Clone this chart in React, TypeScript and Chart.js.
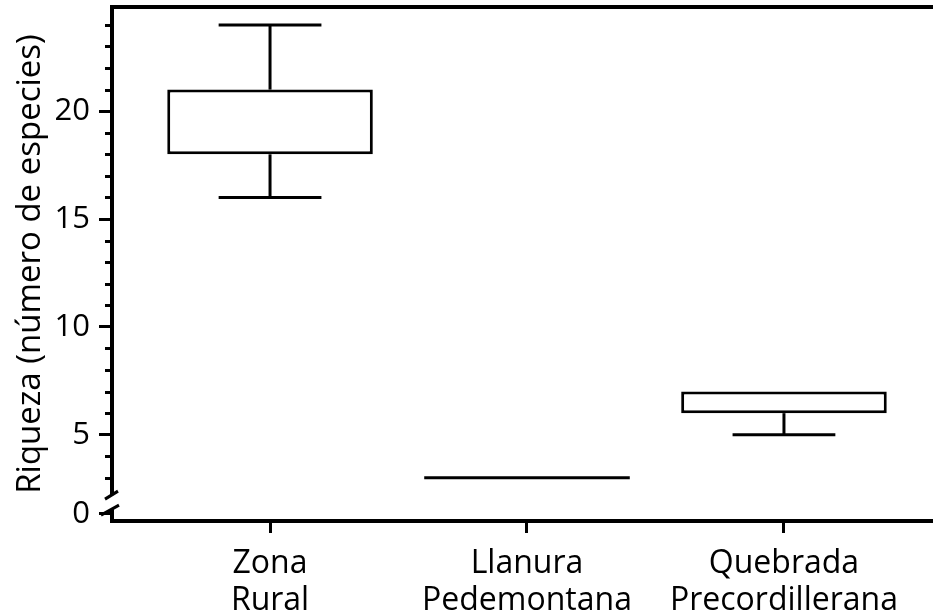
import React, { useEffect, useRef } from 'react';
import { Chart, registerables } from 'chart.js';

Chart.register(...registerables);

// ---- data ----
const categories: string[][] = [
  ['Zona', 'Rural'],
  ['Llanura', 'Pedemontana'],
  ['Quebrada', 'Precordillerana'],
];
const whiskerMin = [16, 3, 5];
const q1 = [18, 3, 6];
const median = [18, 3, 6];
const q3 = [21, 3, 7];
const whiskerMax = [24, 3, 7];

const yMajorTicks = [5, 10, 15, 20];
const yMinorTicks = [3, 4, 6, 7, 8, 9, 11, 12, 13, 14, 16, 17, 18, 19, 21, 22, 23, 24];
// the "0" label sits just below the axis break
const zeroTickPos = 1.33;
const zeroTickLabel = '0';
const breakLow = 1.55;
const breakHigh = 2.2;

const Y_MIN = 1.0;
const Y_MAX = 24.83;
const X_MIN = 0.385;
const X_MAX = 3.58;

const FONT_FAMILY = "'Open Sans', sans-serif";

const boxExtras = {
  id: 'boxExtras',
  afterDatasetsDraw(chart: any) {
    const { ctx, scales } = chart;
    const x = scales.x;
    const y = scales.y;
    const meta = chart.getDatasetMeta(0);
    ctx.save();
    ctx.strokeStyle = '#000';
    ctx.lineWidth = 3;
    ctx.lineCap = 'butt';
    const line = (x1: number, y1: number, x2: number, y2: number) => {
      ctx.beginPath();
      ctx.moveTo(x1, y1);
      ctx.lineTo(x2, y2);
      ctx.stroke();
    };
    categories.forEach((_, i) => {
      const bar = meta.data[i];
      const cx = x.getPixelForValue(i + 1);
      const w = bar.width;
      const cap = w / 4;
      if (whiskerMax[i] > q3[i]) {
        const yt = y.getPixelForValue(whiskerMax[i]);
        line(cx, y.getPixelForValue(q3[i]), cx, yt);
        line(cx - cap, yt, cx + cap, yt);
      }
      if (whiskerMin[i] < q1[i]) {
        const yb = y.getPixelForValue(whiskerMin[i]);
        line(cx, y.getPixelForValue(q1[i]), cx, yb);
        line(cx - cap, yb, cx + cap, yb);
      }
      // median: only visible when inside the box or when the box collapses to a line
      const inside = median[i] > q1[i] && median[i] < q3[i];
      const collapsed = q1[i] === q3[i];
      if (inside || collapsed) {
        const ym = y.getPixelForValue(median[i]);
        line(cx - w / 2, ym, cx + w / 2, ym);
      }
    });
    ctx.restore();
  },
  afterDraw(chart: any) {
    const { ctx, chartArea, scales } = chart;
    const y = scales.y;
    ctx.save();
    ctx.strokeStyle = '#000';
    // top frame line
    ctx.lineWidth = 4;
    ctx.beginPath();
    ctx.moveTo(chartArea.left - 2, chartArea.top);
    ctx.lineTo(chartArea.right, chartArea.top);
    ctx.stroke();
    // minor ticks
    ctx.lineWidth = 3;
    yMinorTicks.forEach((v) => {
      const py = Math.round(y.getPixelForValue(v)) + 0.5;
      ctx.beginPath();
      ctx.moveTo(chartArea.left - 7, py);
      ctx.lineTo(chartArea.left, py);
      ctx.stroke();
    });
    // axis break
    const lx = chartArea.left;
    const pHigh = y.getPixelForValue(breakHigh);
    const pLow = y.getPixelForValue(breakLow);
    ctx.fillStyle = '#fff';
    ctx.fillRect(lx - 4, pHigh, 8, pLow - pHigh);
    ctx.lineWidth = 3;
    ctx.beginPath();
    ctx.moveTo(lx - 7, pHigh + 4);
    ctx.lineTo(lx + 6, pHigh - 4);
    ctx.moveTo(lx - 11, pLow + 6);
    ctx.lineTo(lx + 7, pLow - 4);
    ctx.stroke();
    ctx.restore();
  },
};

export default function App() {
  const canvasRef = useRef<HTMLCanvasElement | null>(null);

  useEffect(() => {
    const canvas = canvasRef.current;
    if (!canvas) return;
    const xFont = { family: FONT_FAMILY, size: 32, lineHeight: 1.14 };
    const yFont = { family: FONT_FAMILY, size: 31, lineHeight: 1.2 };
    const titleFont = { family: FONT_FAMILY, size: 33, lineHeight: 1.2 };
    const chart = new Chart(canvas, {
      type: 'bar',
      data: {
        datasets: [
          {
            data: categories.map((_, i) => ({ x: i + 1, y: [q1[i], q3[i]] })) as any,
            backgroundColor: '#fff',
            borderColor: '#000',
            borderWidth: 3,
            borderSkipped: false,
            barPercentage: 0.8,
            categoryPercentage: 1,
          },
        ],
      },
      options: {
        responsive: false,
        animation: false,
        devicePixelRatio: 1,
        layout: { padding: { top: 7, right: 0, left: 0, bottom: 0 } },
        plugins: { legend: { display: false }, tooltip: { enabled: false } },
        scales: {
          x: {
            type: 'linear',
            offset: false,
            min: X_MIN,
            max: X_MAX,
            afterBuildTicks: (s: any) => {
              s.ticks = categories.map((_, i) => ({ value: i + 1 }));
            },
            afterFit: (s: any) => {
              s.height = 95;
              s.paddingLeft = 0;
              s.paddingRight = 0;
            },
            ticks: {
              callback: (v: any) => categories[Math.round(v) - 1],
              font: xFont,
              color: '#000',
              padding: 13,
              maxRotation: 0,
              autoSkip: false,
            },
            grid: { offset: false, drawOnChartArea: false, tickLength: 12, tickWidth: 3, tickColor: '#000' },
            border: { display: true, color: '#000', width: 4 },
          },
          y: {
            type: 'linear',
            min: Y_MIN,
            max: Y_MAX,
            afterBuildTicks: (s: any) => {
              s.ticks = [zeroTickPos, ...yMajorTicks].map((v) => ({ value: v }));
            },
            afterFit: (s: any) => {
              s.width = 112;
              s.paddingTop = 0;
              s.paddingBottom = 0;
            },
            ticks: {
              callback: (v: any) => (v === zeroTickPos ? zeroTickLabel : String(v)),
              font: yFont,
              color: '#000',
              padding: 9,
              autoSkip: false,
            },
            grid: { drawOnChartArea: false, tickLength: 13, tickWidth: 3, tickColor: '#000' },
            border: { display: true, color: '#000', width: 4 },
            title: {
              display: true,
              text: 'Riqueza (número de especies)',
              font: titleFont,
              color: '#000',
              padding: { top: 11, bottom: 0 },
            },
          },
        },
      },
      plugins: [boxExtras],
    } as any);
    return () => chart.destroy();
  }, []);

  return (
    <div style={{ position: 'absolute', left: 0, top: 0, width: 933, height: 616, background: '#fff' }}>
      <canvas ref={canvasRef} width={933} height={616} style={{ display: 'block' }} />
    </div>
  );
}
